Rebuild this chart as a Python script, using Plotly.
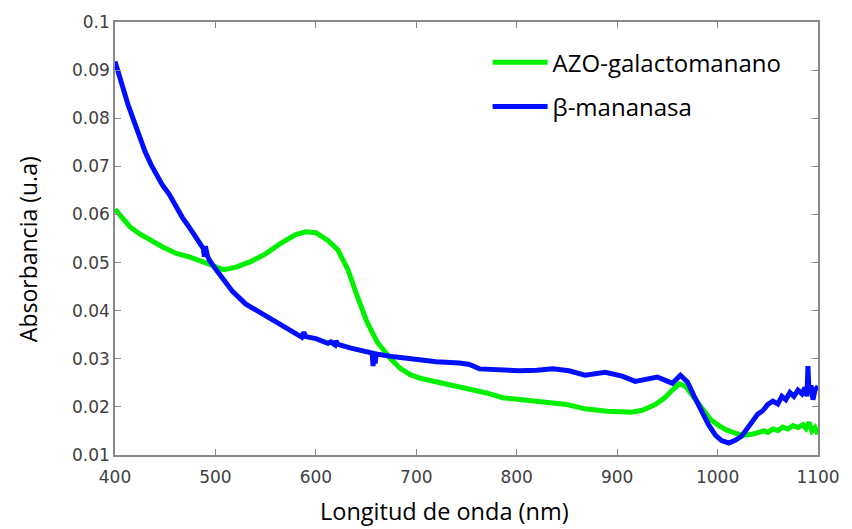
import plotly.graph_objects as go

# ---------------- data ----------------
wl_azo = [400, 408, 415, 425, 435, 448, 461, 474, 487, 495, 500, 508, 520, 535, 550, 565, 580,
          590, 600, 612, 622, 632, 641, 651, 661, 674, 684, 694, 705, 720, 743, 770, 786, 810,
          832, 850, 868, 890, 914, 925, 938, 948, 955, 962, 968, 976, 985, 993, 1002, 1010,
          1018, 1026, 1034, 1040, 1046, 1050, 1055, 1060, 1065, 1070, 1075, 1080, 1085, 1088,
          1091, 1094, 1097, 1100]
abs_azo = [0.0611, 0.0590, 0.0574, 0.0559, 0.0546, 0.0532, 0.0519, 0.0512, 0.0502, 0.0496,
           0.0490, 0.0485, 0.0490, 0.0502, 0.0518, 0.0540, 0.0558, 0.0564, 0.0562, 0.0546,
           0.0526, 0.0485, 0.0431, 0.0376, 0.0335, 0.0301, 0.0280, 0.0267, 0.0259, 0.0252,
           0.0243, 0.0229, 0.0219, 0.0214, 0.0211, 0.0205, 0.0196, 0.0191, 0.0189, 0.0193,
           0.0205, 0.0220, 0.0235, 0.0248, 0.0243, 0.0222, 0.0195, 0.0174, 0.0160, 0.0151,
           0.0145, 0.0141, 0.0143, 0.0146, 0.0150, 0.0147, 0.0154, 0.0151, 0.0158, 0.0154,
           0.0161, 0.0157, 0.0163, 0.0155, 0.0168, 0.0150, 0.0157, 0.0143]

wl_man = [400, 404, 408, 413, 418, 424, 430, 436, 441, 447, 454, 460, 467, 474, 481, 487, 488,
          489, 490, 492, 494, 500, 505, 511, 517, 530, 550, 565, 582, 586, 588, 590, 600, 612,
          615, 619, 620, 622, 635, 645, 655, 656, 657, 658, 659, 660, 678, 700, 720, 743, 753,
          763, 780, 803, 820, 836, 852, 868, 888, 905, 918, 930, 940, 948, 955, 963, 970, 977,
          984, 991, 998, 1004, 1011, 1018, 1024, 1030, 1035, 1040, 1045, 1050, 1055, 1060, 1064,
          1068, 1072, 1076, 1080, 1084, 1087, 1089, 1090, 1091, 1093, 1095, 1097, 1100]
abs_man = [0.0918, 0.0888, 0.0860, 0.0828, 0.0799, 0.0764, 0.0730, 0.0703, 0.0683, 0.0662,
           0.0642, 0.0618, 0.0594, 0.0573, 0.0553, 0.0535, 0.0529, 0.0512, 0.0534, 0.0514,
           0.0505, 0.0487, 0.0472, 0.0455, 0.0440, 0.0414, 0.0390, 0.0373, 0.0352, 0.0345,
           0.0355, 0.0346, 0.0342, 0.0332, 0.0335, 0.0329, 0.0337, 0.0330, 0.0322, 0.0318,
           0.0313, 0.0312, 0.0285, 0.0312, 0.0290, 0.0310, 0.0304, 0.0298, 0.0294, 0.0291,
           0.0288, 0.0279, 0.0277, 0.0275, 0.0276, 0.0279, 0.0275, 0.0266, 0.0272, 0.0264,
           0.0253, 0.0257, 0.0262, 0.0255, 0.0249, 0.0266, 0.0252, 0.0221, 0.0190, 0.0163,
           0.0141, 0.0130, 0.0125, 0.0131, 0.0139, 0.0158, 0.0170, 0.0185, 0.0192, 0.0205,
           0.0212, 0.0206, 0.0222, 0.0215, 0.0230, 0.0222, 0.0235, 0.0227, 0.0240, 0.0222,
           0.0285, 0.0230, 0.0245, 0.0215, 0.0235, 0.0243]

series_names = ["AZO-galactomanano", "β-mananasa"]
series_colors = ["#00f000", "#0010ff"]

x_ticks = [400, 500, 600, 700, 800, 900, 1000, 1100]
y_ticks = [0.01, 0.02, 0.03, 0.04, 0.05, 0.06, 0.07, 0.08, 0.09, 0.1]
y_tick_text = ["0.01", "0.02", "0.03", "0.04", "0.05", "0.06", "0.07", "0.08", "0.09", "0.1"]

x_title = "Longitud de onda (nm)"
y_title = "Absorbancia (u.a)"

# ---------------- figure ----------------
fig = go.Figure()
for i, (xs, ys) in enumerate([(wl_azo, abs_azo), (wl_man, abs_man)]):
    fig.add_trace(go.Scatter(
        x=xs, y=ys, mode="lines", name=series_names[i],
        legendgroup=f"g{i}",
        line=dict(color=series_colors[i], width=5),
    ))

axis_common = dict(
    showline=True, linecolor="#888888", linewidth=1.5, mirror="ticks",
    ticks="inside", ticklen=6, tickcolor="#888888", tickwidth=1.2,
    showgrid=False, zeroline=False,
    tickfont=dict(family="DejaVu Sans", size=17, color="#404040"),
)

fig.update_xaxes(range=[400, 1100], tickvals=x_ticks, ticklabelstandoff=6, **axis_common)
fig.update_yaxes(range=[0.01, 0.1], tickvals=y_ticks, ticktext=y_tick_text, **axis_common)

fig.update_layout(
    width=852, height=529,
    margin=dict(l=115, r=27, t=15, b=74),
    paper_bgcolor="white", plot_bgcolor="white",
    showlegend=True,
    legend=dict(
        x=0.53, y=0.958, xanchor="left", yanchor="top",
        bgcolor="rgba(0,0,0,0)", borderwidth=0,
        font=dict(family="Open Sans", size=24, color="black"),
        itemwidth=55, tracegroupgap=10,
    ),
    annotations=[
        dict(text=x_title, xref="paper", yref="paper", x=0.469, y=-0.13,
             xanchor="center", yanchor="middle", showarrow=False,
             font=dict(family="Open Sans", size=23.5, color="black")),
        dict(text=y_title, xref="paper", yref="paper", x=-0.124, y=0.475,
             xanchor="center", yanchor="middle", showarrow=False, textangle=-90,
             font=dict(family="Open Sans", size=23, color="black")),
    ],
)

fig.write_html("out.html")
